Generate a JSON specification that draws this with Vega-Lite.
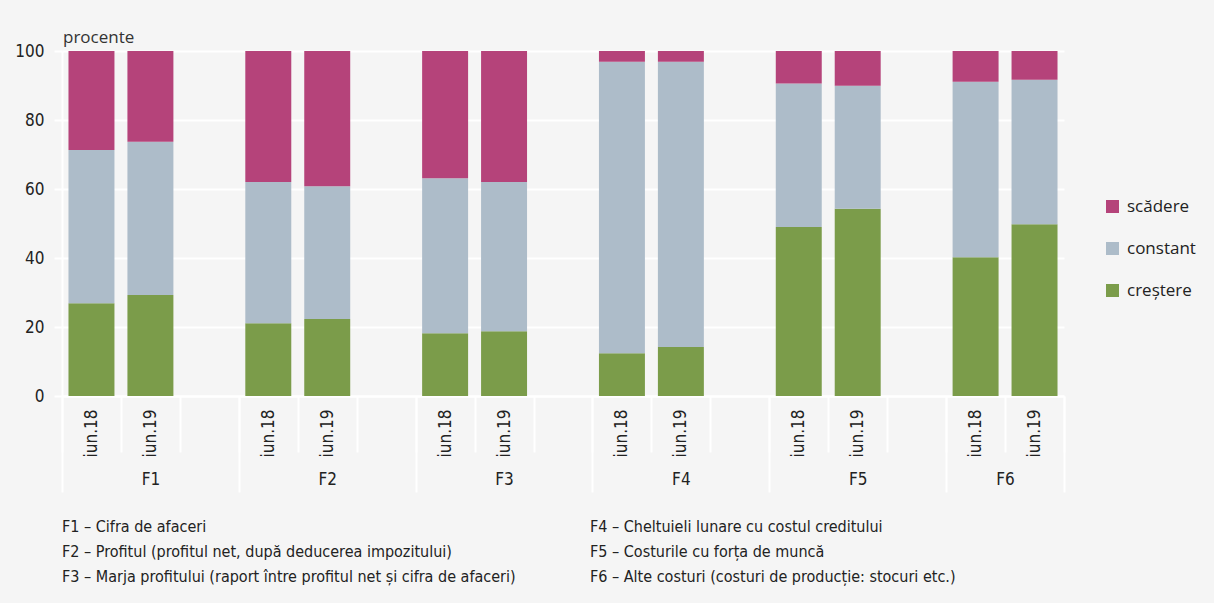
{
  "$schema": "https://vega.github.io/schema/vega-lite/v6.json",
  "width": 1002,
  "height": 345,
  "autosize": {"type": "none"},
  "padding": {"left": 62, "top": 51, "right": 150, "bottom": 207},
  "background": "#f5f5f5",
  "title": {
    "text": "procente",
    "anchor": "start",
    "frame": "group",
    "orient": "top",
    "baseline": "alphabetic",
    "offset": 7,
    "dx": 1,
    "dy": 25,
    "font": "Open Sans",
    "fontSize": 17,
    "fontWeight": "normal",
    "color": "#333333"
  },
  "config": {
    "view": {"stroke": null},
    "font": "Liberation Sans Narrow, DejaVu Sans Condensed, sans-serif",
    "axis": {"labelColor": "#222222", "titleColor": "#222222"},
    "legend": {"labelColor": "#222222", "padding": 0}
  },
  "data": {
    "values": [
      {"factor": "F1", "perioada": "iun.18", "serie": "creștere", "procent": 26.9},
      {"factor": "F1", "perioada": "iun.18", "serie": "constant", "procent": 44.4},
      {"factor": "F1", "perioada": "iun.18", "serie": "scădere", "procent": 28.7},
      {"factor": "F1", "perioada": "iun.19", "serie": "creștere", "procent": 29.3},
      {"factor": "F1", "perioada": "iun.19", "serie": "constant", "procent": 44.4},
      {"factor": "F1", "perioada": "iun.19", "serie": "scădere", "procent": 26.3},
      {"factor": "F2", "perioada": "iun.18", "serie": "creștere", "procent": 21.1},
      {"factor": "F2", "perioada": "iun.18", "serie": "constant", "procent": 40.9},
      {"factor": "F2", "perioada": "iun.18", "serie": "scădere", "procent": 38.0},
      {"factor": "F2", "perioada": "iun.19", "serie": "creștere", "procent": 22.3},
      {"factor": "F2", "perioada": "iun.19", "serie": "constant", "procent": 38.5},
      {"factor": "F2", "perioada": "iun.19", "serie": "scădere", "procent": 39.2},
      {"factor": "F3", "perioada": "iun.18", "serie": "creștere", "procent": 18.2},
      {"factor": "F3", "perioada": "iun.18", "serie": "constant", "procent": 44.9},
      {"factor": "F3", "perioada": "iun.18", "serie": "scădere", "procent": 36.9},
      {"factor": "F3", "perioada": "iun.19", "serie": "creștere", "procent": 18.8},
      {"factor": "F3", "perioada": "iun.19", "serie": "constant", "procent": 43.2},
      {"factor": "F3", "perioada": "iun.19", "serie": "scădere", "procent": 38.0},
      {"factor": "F4", "perioada": "iun.18", "serie": "creștere", "procent": 12.4},
      {"factor": "F4", "perioada": "iun.18", "serie": "constant", "procent": 84.5},
      {"factor": "F4", "perioada": "iun.18", "serie": "scădere", "procent": 3.1},
      {"factor": "F4", "perioada": "iun.19", "serie": "creștere", "procent": 14.2},
      {"factor": "F4", "perioada": "iun.19", "serie": "constant", "procent": 82.7},
      {"factor": "F4", "perioada": "iun.19", "serie": "scădere", "procent": 3.1},
      {"factor": "F5", "perioada": "iun.18", "serie": "creștere", "procent": 49.0},
      {"factor": "F5", "perioada": "iun.18", "serie": "constant", "procent": 41.6},
      {"factor": "F5", "perioada": "iun.18", "serie": "scădere", "procent": 9.4},
      {"factor": "F5", "perioada": "iun.19", "serie": "creștere", "procent": 54.3},
      {"factor": "F5", "perioada": "iun.19", "serie": "constant", "procent": 35.6},
      {"factor": "F5", "perioada": "iun.19", "serie": "scădere", "procent": 10.1},
      {"factor": "F6", "perioada": "iun.18", "serie": "creștere", "procent": 40.2},
      {"factor": "F6", "perioada": "iun.18", "serie": "constant", "procent": 50.9},
      {"factor": "F6", "perioada": "iun.18", "serie": "scădere", "procent": 8.9},
      {"factor": "F6", "perioada": "iun.19", "serie": "creștere", "procent": 49.8},
      {"factor": "F6", "perioada": "iun.19", "serie": "constant", "procent": 41.9},
      {"factor": "F6", "perioada": "iun.19", "serie": "scădere", "procent": 8.3}
    ]
  },
  "transform": [
    {"calculate": "datum.factor + ' ' + datum.perioada", "as": "slot"},
    {"calculate": "indexof(['creștere', 'constant', 'scădere'], datum.serie)", "as": "ordine"}
  ],
  "layer": [
    {
      "mark": {"type": "bar", "width": {"band": 0.78}},
      "encoding": {
        "x": {
          "field": "slot",
          "type": "nominal",
          "scale": {
            "domain": ["F1 iun.18", "F1 iun.19", "F1 -", "F2 iun.18", "F2 iun.19", "F2 -", "F3 iun.18", "F3 iun.19", "F3 -", "F4 iun.18", "F4 iun.19", "F4 -", "F5 iun.18", "F5 iun.19", "F5 -", "F6 iun.18", "F6 iun.19"],
            "paddingInner": 0,
            "paddingOuter": 0
          },
          "axis": {
            "orient": "bottom",
            "title": null,
            "labelExpr": "isString(datum.value) && indexof(datum.value, 'iun') >= 0 ? split(datum.value, ' ')[1] : ''",
            "labelAngle": -90,
            "labelAlign": "right",
            "labelBaseline": "middle",
            "labelPadding": -43,
            "labelFontSize": 17,
            "labelOverlap": false,
            "tickBand": "extent",
            "tickSize": 56,
            "tickColor": "white",
            "tickWidth": 2,
            "domainColor": "white",
            "domainWidth": 2
          }
        },
        "y": {
          "field": "procent",
          "type": "quantitative",
          "stack": "zero",
          "scale": {"domain": [0, 100]},
          "axis": {
            "title": null,
            "values": [0, 20, 40, 60, 80, 100],
            "labelFontSize": 17,
            "labelPadding": 10,
            "grid": true,
            "gridColor": "white",
            "gridWidth": 2,
            "domainColor": "white",
            "domainWidth": 2,
            "tickColor": "white",
            "tickWidth": 2,
            "tickSize": 8
          }
        },
        "color": {
          "field": "serie",
          "type": "nominal",
          "scale": {
            "domain": ["scădere", "constant", "creștere"],
            "range": ["#b5437a", "#adbcc9", "#7b9c4a"]
          },
          "legend": {
            "title": null,
            "orient": "none",
            "legendX": 1042,
            "legendY": 147,
            "symbolType": "square",
            "symbolSize": 169,
            "symbolStrokeWidth": 0,
            "labelFont": "Open Sans",
            "labelFontSize": 17,
            "labelOffset": 6,
            "rowPadding": 24
          }
        },
        "order": {"field": "ordine", "type": "quantitative"}
      }
    },
    {
      "mark": {"type": "point", "opacity": 0},
      "encoding": {
        "x": {
          "field": "slot",
          "type": "nominal",
          "scale": {
            "domain": ["F1 iun.18", "F1 iun.19", "F1 -", "F2 iun.18", "F2 iun.19", "F2 -", "F3 iun.18", "F3 iun.19", "F3 -", "F4 iun.18", "F4 iun.19", "F4 -", "F5 iun.18", "F5 iun.19", "F5 -", "F6 iun.18", "F6 iun.19"],
            "paddingInner": 0,
            "paddingOuter": 0
          },
          "axis": {
            "orient": "bottom",
            "title": null,
            "domain": false,
            "grid": false,
            "labelExpr": "isString(datum.value) && (datum.value == 'F6 iun.18' || (datum.value != 'F6 iun.19' && indexof(datum.value, 'iun.19') >= 0)) ? split(datum.value, ' ')[0] : ''",
            "labelAngle": 0,
            "labelAlign": "center",
            "labelBaseline": "top",
            "labelPadding": -21,
            "labelFontSize": 17,
            "labelOverlap": false,
            "labelOffset": {"condition": {"test": "datum.value == 'F6 iun.18'", "value": 29.5}, "value": 0},
            "tickBand": "extent",
            "tickSize": 96,
            "tickColor": "white",
            "tickWidth": 2,
            "tickOpacity": {"condition": {"test": "!isString(datum.value) || indexof(['F1 -', 'F2 -', 'F3 -', 'F4 -', 'F5 -', 'F6 iun.19'], datum.value) >= 0", "value": 1}, "value": 0}
          }
        }
      }
    },
    {
      "data": {
        "values": [
          {"nota": "F1 – Cifra de afaceri"},
          {"nota": "F2 – Profitul (profitul net, după deducerea impozitului)"},
          {"nota": "F3 – Marja profitului (raport între profitul net și cifra de afaceri)"},
          {"nota": "F4 – Cheltuieli lunare cu costul creditului"},
          {"nota": "F5 – Costurile cu forța de muncă"},
          {"nota": "F6 – Alte costuri (costuri de producție: stocuri etc.)"}
        ]
      },
      "mark": {"type": "point", "opacity": 0},
      "encoding": {
        "shape": {
          "field": "nota",
          "type": "nominal",
          "scale": {
            "domain": [
              "F1 – Cifra de afaceri",
              "F2 – Profitul (profitul net, după deducerea impozitului)",
              "F3 – Marja profitului (raport între profitul net și cifra de afaceri)",
              "F4 – Cheltuieli lunare cu costul creditului",
              "F5 – Costurile cu forța de muncă",
              "F6 – Alte costuri (costuri de producție: stocuri etc.)"
            ]
          },
          "legend": {
            "title": null,
            "orient": "none",
            "legendX": -16,
            "legendY": 468,
            "columns": 2,
            "columnPadding": 58,
            "rowPadding": 9,
            "symbolSize": 0,
            "symbolOpacity": 0,
            "labelOffset": 0,
            "labelFontSize": 16,
            "labelLimit": 700
          }
        }
      }
    }
  ],
  "resolve": {"axis": {"x": "independent"}}
}
